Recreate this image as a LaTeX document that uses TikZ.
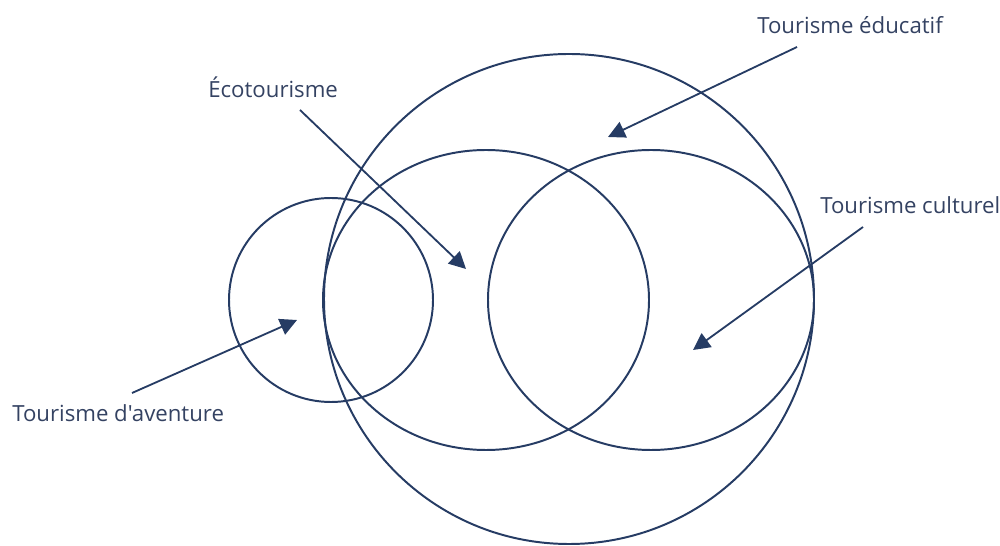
\documentclass[tikz,border=0pt]{standalone}
\usepackage{fontspec}
\setmainfont{Open Sans}[Ligatures=TeXOff]
\usepackage{xcolor}
\usetikzlibrary{arrows.meta,shapes.geometric}
\definecolor{navy}{RGB}{38,60,100}
\definecolor{labelblue}{RGB}{52,66,98}
\tikzset{
	ring/.style={draw=navy, line width=1.4pt},
	pointer/.style={draw=navy, line width=1.3pt, -{Triangle[length=12pt,width=12pt]}},
	tag/.style={text=labelblue, font=\fontsize{15.8}{18}\selectfont, inner sep=0pt, anchor=west}
}
\begin{document}
\begin{tikzpicture}[x=0.025cm, y=0.025cm]
	\useasboundingbox (0,0) rectangle (1000,546);
	
	\draw[ring] (569,247) circle (245);
	\draw[ring] (486,246) ellipse [x radius=163, y radius=150];
	\draw[ring] (651,246) ellipse [x radius=163, y radius=150];
	\draw[ring] (331,246) circle (102);
	
	\node[tag] (eco) at (208,459) {Écotourisme};
	\node[tag] (educ) at (757,521) {Tourisme éducatif};
	\node[tag] (cult) at (820,341) {Tourisme culturel};
	\node[tag] (avent) at (12,133) {Tourisme d'aventure};
	
	\coordinate (eco-from) at (300,436);
	\coordinate (eco-to) at (466,277);
	\coordinate (educ-from) at (797,499);
	\coordinate (educ-to) at (608,409);
	\coordinate (cult-from) at (863,319);
	\coordinate (cult-to) at (693,196);
	\coordinate (avent-from) at (132,153);
	\coordinate (avent-to) at (297,226);
	
	\draw[pointer] (eco-from) -- (eco-to);
	\draw[pointer] (educ-from) -- (educ-to);
	\draw[pointer] (cult-from) -- (cult-to);
	\draw[pointer] (avent-from) -- (avent-to);
\end{tikzpicture}
\end{document}
